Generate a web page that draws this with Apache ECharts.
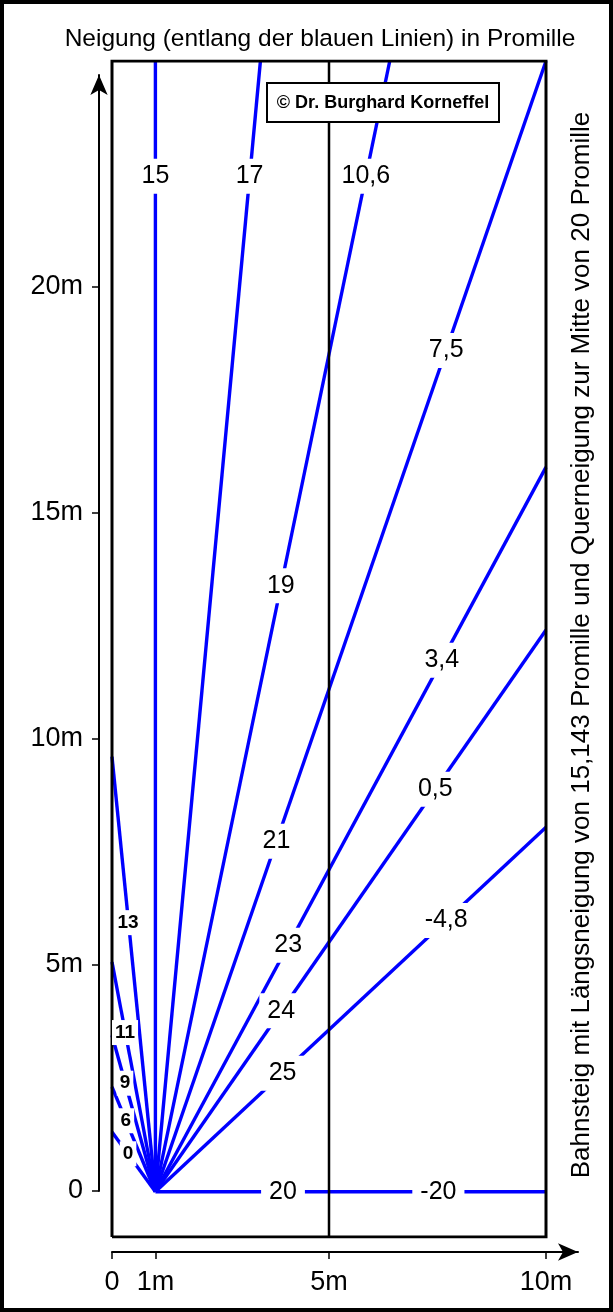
<!DOCTYPE html>
<html>
<head>
<meta charset="utf-8">
<script src="https://cdn.jsdelivr.net/npm/echarts@6/dist/echarts.min.js"></script>
<style>
  html, body { margin: 0; padding: 0; background: #fff; }
  #chart { width: 613px; height: 1312px; }
</style>
</head>
<body>
<div id="chart"></div>
<script>
// Bahnsteig 10 m breit, Bezugspunkt der Richtungslinien bei x = 1 m, y = 0
const rayOrigin = [1, 0];
// Endpunkte der blauen Richtungslinien [x in m, y in m]
const rayEnds = [
  [0, 1.32], [0, 2.32], [0, 3.46], [0, 5.08], [0, 9.62],
  [1, 25], [3.42, 25], [6.40, 25], [10, 25],
  [10, 16.02], [10, 12.42], [10, 8.06], [10, 0]
];
// Neigungsbeschriftungen auf den Linien [x, y, Text]
const slopeLabels = [
  [1, 22.45, '15'], [3.17, 22.45, '17'], [5.85, 22.45, '10,6'],
  [3.89, 13.4, '19'], [7.70, 18.6, '7,5'],
  [3.79, 7.75, '21'], [7.60, 11.75, '3,4'],
  [4.06, 5.45, '23'], [7.45, 8.9, '0,5'],
  [3.90, 4.0, '24'], [7.70, 6.0, '-4,8'],
  [3.93, 2.62, '25'],
  [3.94, 0, '20'], [7.52, 0, '-20']
];
// kleine Beschriftungen am linken Bahnsteigrand
const edgeLabels = [
  [0.37, 5.95, '13'], [0.30, 3.52, '11'], [0.30, 2.40, '9'],
  [0.32, 1.57, '6'], [0.37, 0.84, '0']
];
const platformOutline = [[0, -1], [10, -1], [10, 25], [0, 25], [0, -1]];
const centerLine = [[5, -1], [5, 25]];
const xTickValues = [0, 1, 5, 10];
const yTickValues = [0, 5, 10, 15, 20];

const FONT = '"Liberation Sans", Arial, Helvetica, sans-serif';
const BLUE = '#0000ff';

const raySeries = rayEnds.map(end => ({
  type: 'line',
  xAxisIndex: 0, yAxisIndex: 0,
  data: [rayOrigin, end],
  symbol: 'none',
  silent: true,
  lineStyle: { color: BLUE, width: 3.4 },
  z: 2
}));

const labelSeries = (list, fontSize, weight, pad) => ({
  type: 'scatter',
  xAxisIndex: 0, yAxisIndex: 0,
  data: list.map(l => ({ value: [l[0], l[1]], label: { formatter: l[2] } })),
  symbol: 'circle',
  symbolSize: 1,
  itemStyle: { color: 'rgba(0,0,0,0)', opacity: 1 },
  silent: true,
  z: 10,
  label: {
    show: true,
    position: 'inside',
    fontFamily: FONT,
    fontSize: fontSize,
    fontWeight: weight,
    color: '#000',
    opacity: 1,
    backgroundColor: '#fff',
    padding: pad
  }
});

const chart = echarts.init(document.getElementById('chart'), null, { renderer: 'canvas' });

const hiddenAxis = { show: false };

chart.setOption({
  animation: false,
  backgroundColor: '#fff',
  grid: [
    { left: 112, top: 61, width: 434, height: 1176 },
    { left: 112, top: 75, width: 434, height: 1116 },
    { left: 112, top: 1000, width: 466, height: 252 }
  ],
  xAxis: [
    { gridIndex: 0, type: 'value', min: 0, max: 10, ...hiddenAxis },
    { gridIndex: 1, type: 'value', min: 0, max: 10, ...hiddenAxis },
    {
      gridIndex: 2, type: 'value', min: 0, max: 10.737,
      position: 'bottom',
      axisLine: {
        show: true, onZero: false,
        symbol: ['none', 'arrow'], symbolSize: [13, 20],
        lineStyle: { color: '#000', width: 2 }
      },
      axisTick: { show: true, customValues: xTickValues, length: 7, lineStyle: { color: '#000', width: 1.5 } },
      axisLabel: {
        show: true, customValues: xTickValues, margin: 17,
        formatter: v => (v === 0 ? '0' : v + 'm'),
        fontFamily: FONT, fontSize: 27, color: '#000'
      },
      splitLine: { show: false }
    }
  ],
  yAxis: [
    { gridIndex: 0, type: 'value', min: -1, max: 25, ...hiddenAxis },
    {
      gridIndex: 1, type: 'value', min: 0, max: 24.67,
      position: 'left', offset: 13,
      axisLine: {
        show: true, onZero: false,
        symbol: ['none', 'arrow'], symbolSize: [13, 20],
        lineStyle: { color: '#000', width: 2 }
      },
      axisTick: { show: true, customValues: yTickValues, length: 7, lineStyle: { color: '#000', width: 1.5 } },
      axisLabel: {
        show: true, customValues: yTickValues, margin: 16,
        formatter: v => (v === 0 ? '0' : v + 'm'),
        fontFamily: FONT, fontSize: 27, color: '#000'
      },
      splitLine: { show: false }
    },
    { gridIndex: 2, type: 'value', min: 0, max: 1, ...hiddenAxis }
  ],
  series: [
    ...raySeries,
    {
      type: 'line', xAxisIndex: 0, yAxisIndex: 0,
      data: centerLine, symbol: 'none', silent: true,
      lineStyle: { color: '#000', width: 2.5 }, z: 3
    },
    {
      type: 'line', xAxisIndex: 0, yAxisIndex: 0,
      data: platformOutline, symbol: 'none', silent: true,
      lineStyle: { color: '#000', width: 3, join: 'miter' }, z: 4
    },
    labelSeries(slopeLabels, 25, 'normal', [5, 8]),
    labelSeries(edgeLabels, 19, 'bold', [3, 3])
  ],
  graphic: [
    {
      type: 'rect', z: 100, silent: true,
      shape: { x: 2, y: 2, width: 609, height: 1308 },
      style: { fill: 'none', stroke: '#000', lineWidth: 4 }
    },
    {
      type: 'text', z: 100, silent: true, x: 320, y: 39,
      style: {
        text: 'Neigung (entlang der blauen Linien) in Promille',
        fill: '#000', fontFamily: FONT, fontSize: 24.5,
        align: 'center', verticalAlign: 'middle'
      }
    },
    {
      type: 'text', z: 100, silent: true, x: 582, y: 645, rotation: Math.PI / 2,
      style: {
        text: 'Bahnsteig mit Längsneigung von 15,143 Promille und Querneigung zur Mitte von 20 Promille',
        fill: '#000', fontFamily: FONT, fontSize: 26,
        align: 'center', verticalAlign: 'middle'
      }
    },
    {
      type: 'group', x: 267, y: 83, z: 100, silent: true,
      children: [
        {
          type: 'rect', z: 100,
          shape: { x: 0, y: 0, width: 232, height: 39 },
          style: { fill: '#fff', stroke: '#000', lineWidth: 2 }
        },
        {
          type: 'text', z: 101, x: 116, y: 20,
          style: {
            text: '© Dr. Burghard Korneffel',
            fill: '#000', fontFamily: FONT, fontSize: 18, fontWeight: 'bold',
            align: 'center', verticalAlign: 'middle'
          }
        }
      ]
    }
  ]
});
</script>
</body>
</html>
